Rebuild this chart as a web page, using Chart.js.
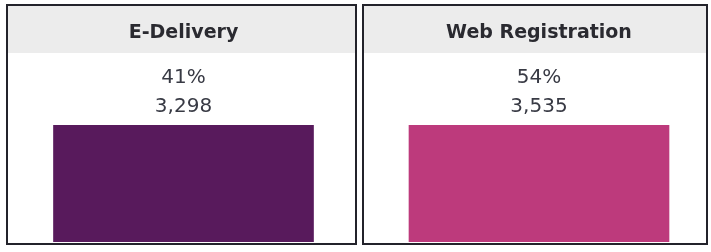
<!DOCTYPE html>
<html>
<head>
<meta charset="utf-8">
<script src="https://cdn.jsdelivr.net/npm/chart.js@4"></script>
<style>
  body { margin: 0; background: #fff; width: 711px; height: 252px; position: relative; overflow: hidden; }
  .panel { position: absolute; top: 4px; height: 237px; border: 2px solid #23232b; background: #fff; }
  #p1 { left: 6px; width: 347px; }
  #p2 { left: 362px; width: 342px; }
</style>
</head>
<body>
<div class="panel" id="p1"><canvas id="chart1"></canvas></div>
<div class="panel" id="p2"><canvas id="chart2"></canvas></div>
<script>
const categories = ['E-Delivery', 'Web Registration'];
const percents = [41, 54];
const counts = [3298, 3535];

const colors = ['#581a5c', '#bd3a7c'];
const padLeft = [4, 8];

// grey band behind the header title
const headerBand = {
  id: 'headerBand',
  beforeDraw(chart) {
    const c = chart.ctx;
    const t = chart.titleBlock;
    c.save();
    c.fillStyle = '#ececec';
    c.fillRect(0, 0, chart.width, t.bottom);
    c.restore();
  }
};

function makePanel(id, i) {
  new Chart(document.getElementById(id), {
    type: 'bar',
    data: {
      labels: [categories[i]],
      datasets: [{
        data: [counts[i]],
        backgroundColor: colors[i],
        borderWidth: 0,
        barThickness: 260
      }]
    },
    plugins: [headerBand],
    options: {
      animation: false,
      responsive: true,
      maintainAspectRatio: false,
      layout: { padding: { left: padLeft[i], right: 0, top: 0, bottom: 1 } },
      plugins: {
        legend: { display: false },
        tooltip: { enabled: false },
        title: {
          display: true,
          text: categories[i],
          color: '#2a2a30',
          font: { family: 'DejaVu Sans', size: 19, weight: 'bold', lineHeight: 1.2 },
          padding: { top: 15.5, bottom: 8.7 }
        },
        subtitle: {
          display: true,
          text: [percents[i] + '%', counts[i].toLocaleString('en-US')],
          color: '#383a44',
          font: { family: 'DejaVu Sans', size: 20, lineHeight: 1.45 },
          padding: { top: 10.5, bottom: 3.5 }
        }
      },
      scales: {
        x: { display: false },
        y: { display: false, min: 0, max: counts[i] }
      }
    }
  });
}

makePanel('chart1', 0);
makePanel('chart2', 1);
</script>
</body>
</html>
